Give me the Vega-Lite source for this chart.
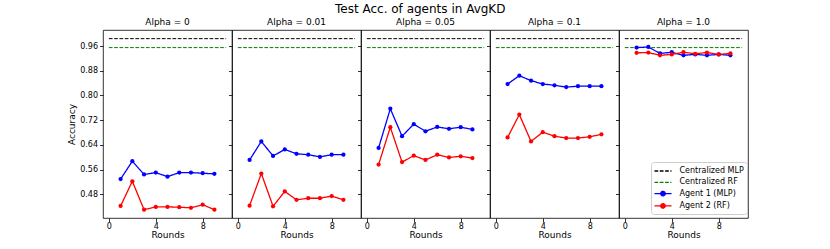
{
  "$schema": "https://vega.github.io/schema/vega-lite/v6.json",
  "padding": {"left": 67, "top": 3, "right": 5, "bottom": 5},
  "background": "white",
  "title": {"text": "Test Acc. of agents in AvgKD", "fontSize": 12, "fontWeight": "normal", "font": "DejaVu Sans", "anchor": "start", "frame": "group", "dx": 232, "offset": 1.5, "color": "#000"},
  "datasets": {
    "central": [
      {"series": "Centralized MLP", "round": 0, "acc": 0.984},
      {"series": "Centralized MLP", "round": 10, "acc": 0.984},
      {"series": "Centralized RF", "round": 0, "acc": 0.955},
      {"series": "Centralized RF", "round": 10, "acc": 0.955}
    ],
    "agents": [
      {"alpha": "0", "series": "Agent 1 (MLP)", "round": 1, "acc": 0.529},
      {"alpha": "0", "series": "Agent 1 (MLP)", "round": 2, "acc": 0.587},
      {"alpha": "0", "series": "Agent 1 (MLP)", "round": 3, "acc": 0.544},
      {"alpha": "0", "series": "Agent 1 (MLP)", "round": 4, "acc": 0.550},
      {"alpha": "0", "series": "Agent 1 (MLP)", "round": 5, "acc": 0.537},
      {"alpha": "0", "series": "Agent 1 (MLP)", "round": 6, "acc": 0.550},
      {"alpha": "0", "series": "Agent 1 (MLP)", "round": 7, "acc": 0.550},
      {"alpha": "0", "series": "Agent 1 (MLP)", "round": 8, "acc": 0.548},
      {"alpha": "0", "series": "Agent 1 (MLP)", "round": 9, "acc": 0.546},
      {"alpha": "0", "series": "Agent 2 (RF)", "round": 1, "acc": 0.442},
      {"alpha": "0", "series": "Agent 2 (RF)", "round": 2, "acc": 0.522},
      {"alpha": "0", "series": "Agent 2 (RF)", "round": 3, "acc": 0.430},
      {"alpha": "0", "series": "Agent 2 (RF)", "round": 4, "acc": 0.439},
      {"alpha": "0", "series": "Agent 2 (RF)", "round": 5, "acc": 0.439},
      {"alpha": "0", "series": "Agent 2 (RF)", "round": 6, "acc": 0.438},
      {"alpha": "0", "series": "Agent 2 (RF)", "round": 7, "acc": 0.436},
      {"alpha": "0", "series": "Agent 2 (RF)", "round": 8, "acc": 0.446},
      {"alpha": "0", "series": "Agent 2 (RF)", "round": 9, "acc": 0.430},
      {"alpha": "0.01", "series": "Agent 1 (MLP)", "round": 1, "acc": 0.591},
      {"alpha": "0.01", "series": "Agent 1 (MLP)", "round": 2, "acc": 0.651},
      {"alpha": "0.01", "series": "Agent 1 (MLP)", "round": 3, "acc": 0.604},
      {"alpha": "0.01", "series": "Agent 1 (MLP)", "round": 4, "acc": 0.625},
      {"alpha": "0.01", "series": "Agent 1 (MLP)", "round": 5, "acc": 0.611},
      {"alpha": "0.01", "series": "Agent 1 (MLP)", "round": 6, "acc": 0.608},
      {"alpha": "0.01", "series": "Agent 1 (MLP)", "round": 7, "acc": 0.601},
      {"alpha": "0.01", "series": "Agent 1 (MLP)", "round": 8, "acc": 0.608},
      {"alpha": "0.01", "series": "Agent 1 (MLP)", "round": 9, "acc": 0.608},
      {"alpha": "0.01", "series": "Agent 2 (RF)", "round": 1, "acc": 0.443},
      {"alpha": "0.01", "series": "Agent 2 (RF)", "round": 2, "acc": 0.547},
      {"alpha": "0.01", "series": "Agent 2 (RF)", "round": 3, "acc": 0.441},
      {"alpha": "0.01", "series": "Agent 2 (RF)", "round": 4, "acc": 0.489},
      {"alpha": "0.01", "series": "Agent 2 (RF)", "round": 5, "acc": 0.462},
      {"alpha": "0.01", "series": "Agent 2 (RF)", "round": 6, "acc": 0.467},
      {"alpha": "0.01", "series": "Agent 2 (RF)", "round": 7, "acc": 0.467},
      {"alpha": "0.01", "series": "Agent 2 (RF)", "round": 8, "acc": 0.474},
      {"alpha": "0.01", "series": "Agent 2 (RF)", "round": 9, "acc": 0.462},
      {"alpha": "0.05", "series": "Agent 1 (MLP)", "round": 1, "acc": 0.630},
      {"alpha": "0.05", "series": "Agent 1 (MLP)", "round": 2, "acc": 0.757},
      {"alpha": "0.05", "series": "Agent 1 (MLP)", "round": 3, "acc": 0.668},
      {"alpha": "0.05", "series": "Agent 1 (MLP)", "round": 4, "acc": 0.707},
      {"alpha": "0.05", "series": "Agent 1 (MLP)", "round": 5, "acc": 0.684},
      {"alpha": "0.05", "series": "Agent 1 (MLP)", "round": 6, "acc": 0.698},
      {"alpha": "0.05", "series": "Agent 1 (MLP)", "round": 7, "acc": 0.692},
      {"alpha": "0.05", "series": "Agent 1 (MLP)", "round": 8, "acc": 0.697},
      {"alpha": "0.05", "series": "Agent 1 (MLP)", "round": 9, "acc": 0.690},
      {"alpha": "0.05", "series": "Agent 2 (RF)", "round": 1, "acc": 0.576},
      {"alpha": "0.05", "series": "Agent 2 (RF)", "round": 2, "acc": 0.697},
      {"alpha": "0.05", "series": "Agent 2 (RF)", "round": 3, "acc": 0.584},
      {"alpha": "0.05", "series": "Agent 2 (RF)", "round": 4, "acc": 0.605},
      {"alpha": "0.05", "series": "Agent 2 (RF)", "round": 5, "acc": 0.591},
      {"alpha": "0.05", "series": "Agent 2 (RF)", "round": 6, "acc": 0.608},
      {"alpha": "0.05", "series": "Agent 2 (RF)", "round": 7, "acc": 0.599},
      {"alpha": "0.05", "series": "Agent 2 (RF)", "round": 8, "acc": 0.603},
      {"alpha": "0.05", "series": "Agent 2 (RF)", "round": 9, "acc": 0.597},
      {"alpha": "0.1", "series": "Agent 1 (MLP)", "round": 1, "acc": 0.837},
      {"alpha": "0.1", "series": "Agent 1 (MLP)", "round": 2, "acc": 0.864},
      {"alpha": "0.1", "series": "Agent 1 (MLP)", "round": 3, "acc": 0.848},
      {"alpha": "0.1", "series": "Agent 1 (MLP)", "round": 4, "acc": 0.837},
      {"alpha": "0.1", "series": "Agent 1 (MLP)", "round": 5, "acc": 0.833},
      {"alpha": "0.1", "series": "Agent 1 (MLP)", "round": 6, "acc": 0.827},
      {"alpha": "0.1", "series": "Agent 1 (MLP)", "round": 7, "acc": 0.830},
      {"alpha": "0.1", "series": "Agent 1 (MLP)", "round": 8, "acc": 0.830},
      {"alpha": "0.1", "series": "Agent 1 (MLP)", "round": 9, "acc": 0.830},
      {"alpha": "0.1", "series": "Agent 2 (RF)", "round": 1, "acc": 0.664},
      {"alpha": "0.1", "series": "Agent 2 (RF)", "round": 2, "acc": 0.738},
      {"alpha": "0.1", "series": "Agent 2 (RF)", "round": 3, "acc": 0.651},
      {"alpha": "0.1", "series": "Agent 2 (RF)", "round": 4, "acc": 0.681},
      {"alpha": "0.1", "series": "Agent 2 (RF)", "round": 5, "acc": 0.668},
      {"alpha": "0.1", "series": "Agent 2 (RF)", "round": 6, "acc": 0.662},
      {"alpha": "0.1", "series": "Agent 2 (RF)", "round": 7, "acc": 0.662},
      {"alpha": "0.1", "series": "Agent 2 (RF)", "round": 8, "acc": 0.666},
      {"alpha": "0.1", "series": "Agent 2 (RF)", "round": 9, "acc": 0.674},
      {"alpha": "1.0", "series": "Agent 1 (MLP)", "round": 1, "acc": 0.955},
      {"alpha": "1.0", "series": "Agent 1 (MLP)", "round": 2, "acc": 0.957},
      {"alpha": "1.0", "series": "Agent 1 (MLP)", "round": 3, "acc": 0.936},
      {"alpha": "1.0", "series": "Agent 1 (MLP)", "round": 4, "acc": 0.940},
      {"alpha": "1.0", "series": "Agent 1 (MLP)", "round": 5, "acc": 0.930},
      {"alpha": "1.0", "series": "Agent 1 (MLP)", "round": 6, "acc": 0.933},
      {"alpha": "1.0", "series": "Agent 1 (MLP)", "round": 7, "acc": 0.930},
      {"alpha": "1.0", "series": "Agent 1 (MLP)", "round": 8, "acc": 0.933},
      {"alpha": "1.0", "series": "Agent 1 (MLP)", "round": 9, "acc": 0.930},
      {"alpha": "1.0", "series": "Agent 2 (RF)", "round": 1, "acc": 0.938},
      {"alpha": "1.0", "series": "Agent 2 (RF)", "round": 2, "acc": 0.939},
      {"alpha": "1.0", "series": "Agent 2 (RF)", "round": 3, "acc": 0.930},
      {"alpha": "1.0", "series": "Agent 2 (RF)", "round": 4, "acc": 0.933},
      {"alpha": "1.0", "series": "Agent 2 (RF)", "round": 5, "acc": 0.940},
      {"alpha": "1.0", "series": "Agent 2 (RF)", "round": 6, "acc": 0.935},
      {"alpha": "1.0", "series": "Agent 2 (RF)", "round": 7, "acc": 0.939},
      {"alpha": "1.0", "series": "Agent 2 (RF)", "round": 8, "acc": 0.933},
      {"alpha": "1.0", "series": "Agent 2 (RF)", "round": 9, "acc": 0.936}
    ]
  },
  "spacing": 0,
  "bounds": "flush",
  "hconcat": [
    {
      "width": 129, "height": 188,
      "title": {"text": "Alpha = 0"},
      "layer": [
        {"data": {"name": "central"}, "mark": {"type": "line", "strokeWidth": 1},
         "encoding": {
           "x": {"field": "round", "type": "quantitative", "scale": {"domain": [-0.5, 10.5], "nice": false, "zero": false}, "axis": {"values": [0, 4, 8], "title": "Rounds"}},
           "y": {"field": "acc", "type": "quantitative", "scale": {"domain": [0.403, 1.012], "nice": false, "zero": false}, "axis": {"values": [0.48, 0.56, 0.64, 0.72, 0.8, 0.88, 0.96], "tickCount": 20, "format": ".2f", "title": "Accuracy", "labelOverlap": false}},
           "color": {"field": "series", "type": "nominal", "scale": {"domain": ["Centralized MLP", "Centralized RF", "Agent 1 (MLP)", "Agent 2 (RF)"], "range": ["#000000", "#008000", "#0000ff", "#ff0000"]},
             "legend": {"title": null, "orient": "none", "legendX": 548, "legendY": 132, "symbolType": "stroke", "symbolSize": 100, "symbolOffset": 3, "symbolStrokeWidth": 1.3, "labelFontSize": 8, "labelFont": "DejaVu Sans", "labelColor": "#000", "rowPadding": 1.3, "padding": 3, "strokeColor": "#cccccc", "fillColor": "white", "cornerRadius": 3, "labelOffset": 10.5,
               "encode": {"symbols": {"update": {
                 "shape": {"signal": "indexof(datum.value, 'Agent') == 0 ? 'M-1.7,0H1.7M-0.45,0A0.45,0.45,0,1,0,0.45,0A0.45,0.45,0,1,0,-0.45,0Z' : 'M-1.7,0H1.7'"},
                 "fill": {"signal": "datum.value == 'Agent 1 (MLP)' ? '#0000ff' : (datum.value == 'Agent 2 (RF)' ? '#ff0000' : 'transparent')"}
               }}}}},
           "strokeDash": {"field": "series", "type": "nominal", "scale": {"domain": ["Centralized MLP", "Centralized RF", "Agent 1 (MLP)", "Agent 2 (RF)"], "range": [[3.7, 1.6], [3.7, 1.6], [1, 0], [1, 0]]}}
         }},
        {"data": {"name": "agents"}, "transform": [{"filter": "datum.alpha == '0'"}],
         "mark": {"type": "line", "strokeWidth": 1.3, "point": {"filled": true, "size": 18}},
         "encoding": {
           "x": {"field": "round", "type": "quantitative"},
           "y": {"field": "acc", "type": "quantitative"},
           "color": {"field": "series", "type": "nominal"},
           "strokeDash": {"field": "series", "type": "nominal"}
         }}
      ]
    },
    {
      "width": 129, "height": 188,
      "title": {"text": "Alpha = 0.01"},
      "layer": [
        {"data": {"name": "central"}, "mark": {"type": "line", "strokeWidth": 1},
         "encoding": {
           "x": {"field": "round", "type": "quantitative", "scale": {"domain": [-0.5, 10.5], "nice": false, "zero": false}, "axis": {"values": [0, 4, 8], "title": "Rounds"}},
           "y": {"field": "acc", "type": "quantitative", "scale": {"domain": [0.403, 1.012], "nice": false, "zero": false}, "axis": {"values": [0.48, 0.56, 0.64, 0.72, 0.8, 0.88, 0.96], "tickCount": 20, "labels": false, "title": null}},
           "color": {"field": "series", "type": "nominal"},
           "strokeDash": {"field": "series", "type": "nominal"}
         }},
        {"data": {"name": "agents"}, "transform": [{"filter": "datum.alpha == '0.01'"}],
         "mark": {"type": "line", "strokeWidth": 1.3, "point": {"filled": true, "size": 18}},
         "encoding": {
           "x": {"field": "round", "type": "quantitative"},
           "y": {"field": "acc", "type": "quantitative"},
           "color": {"field": "series", "type": "nominal"},
           "strokeDash": {"field": "series", "type": "nominal"}
         }}
      ]
    },
    {
      "width": 129, "height": 188,
      "title": {"text": "Alpha = 0.05"},
      "layer": [
        {"data": {"name": "central"}, "mark": {"type": "line", "strokeWidth": 1},
         "encoding": {
           "x": {"field": "round", "type": "quantitative", "scale": {"domain": [-0.5, 10.5], "nice": false, "zero": false}, "axis": {"values": [0, 4, 8], "title": "Rounds"}},
           "y": {"field": "acc", "type": "quantitative", "scale": {"domain": [0.403, 1.012], "nice": false, "zero": false}, "axis": {"values": [0.48, 0.56, 0.64, 0.72, 0.8, 0.88, 0.96], "tickCount": 20, "labels": false, "title": null}},
           "color": {"field": "series", "type": "nominal"},
           "strokeDash": {"field": "series", "type": "nominal"}
         }},
        {"data": {"name": "agents"}, "transform": [{"filter": "datum.alpha == '0.05'"}],
         "mark": {"type": "line", "strokeWidth": 1.3, "point": {"filled": true, "size": 18}},
         "encoding": {
           "x": {"field": "round", "type": "quantitative"},
           "y": {"field": "acc", "type": "quantitative"},
           "color": {"field": "series", "type": "nominal"},
           "strokeDash": {"field": "series", "type": "nominal"}
         }}
      ]
    },
    {
      "width": 129, "height": 188,
      "title": {"text": "Alpha = 0.1"},
      "layer": [
        {"data": {"name": "central"}, "mark": {"type": "line", "strokeWidth": 1},
         "encoding": {
           "x": {"field": "round", "type": "quantitative", "scale": {"domain": [-0.5, 10.5], "nice": false, "zero": false}, "axis": {"values": [0, 4, 8], "title": "Rounds"}},
           "y": {"field": "acc", "type": "quantitative", "scale": {"domain": [0.403, 1.012], "nice": false, "zero": false}, "axis": {"values": [0.48, 0.56, 0.64, 0.72, 0.8, 0.88, 0.96], "tickCount": 20, "labels": false, "title": null}},
           "color": {"field": "series", "type": "nominal"},
           "strokeDash": {"field": "series", "type": "nominal"}
         }},
        {"data": {"name": "agents"}, "transform": [{"filter": "datum.alpha == '0.1'"}],
         "mark": {"type": "line", "strokeWidth": 1.3, "point": {"filled": true, "size": 18}},
         "encoding": {
           "x": {"field": "round", "type": "quantitative"},
           "y": {"field": "acc", "type": "quantitative"},
           "color": {"field": "series", "type": "nominal"},
           "strokeDash": {"field": "series", "type": "nominal"}
         }}
      ]
    },
    {
      "width": 129, "height": 188,
      "title": {"text": "Alpha = 1.0"},
      "layer": [
        {"data": {"name": "central"}, "mark": {"type": "line", "strokeWidth": 1},
         "encoding": {
           "x": {"field": "round", "type": "quantitative", "scale": {"domain": [-0.5, 10.5], "nice": false, "zero": false}, "axis": {"values": [0, 4, 8], "title": "Rounds"}},
           "y": {"field": "acc", "type": "quantitative", "scale": {"domain": [0.403, 1.012], "nice": false, "zero": false}, "axis": {"values": [0.48, 0.56, 0.64, 0.72, 0.8, 0.88, 0.96], "tickCount": 20, "labels": false, "title": null}},
           "color": {"field": "series", "type": "nominal"},
           "strokeDash": {"field": "series", "type": "nominal"}
         }},
        {"data": {"name": "agents"}, "transform": [{"filter": "datum.alpha == '1.0'"}],
         "mark": {"type": "line", "strokeWidth": 1.3, "point": {"filled": true, "size": 18}},
         "encoding": {
           "x": {"field": "round", "type": "quantitative"},
           "y": {"field": "acc", "type": "quantitative"},
           "color": {"field": "series", "type": "nominal"},
           "strokeDash": {"field": "series", "type": "nominal"}
         }}
      ]
    }
  ],
  "resolve": {"scale": {"color": "shared", "strokeDash": "shared"}},
  "config": {
    "font": "DejaVu Sans",
    "view": {"stroke": "#000", "strokeWidth": 0.8},
    "axis": {"grid": false, "domain": false, "tickSize": 3.5, "tickColor": "#000", "tickWidth": 0.8, "labelFontSize": 8, "labelColor": "#000", "labelPadding": 2, "labelOverlap": false, "titleFontSize": 9, "titleFontWeight": "normal", "titleColor": "#000", "titlePadding": 3, "labelFont": "DejaVu Sans", "titleFont": "DejaVu Sans"},
    "axisX": {"titlePadding": 0, "labelPadding": 0.5},
    "title": {"fontSize": 9, "fontWeight": "normal", "offset": 3, "color": "#000", "font": "DejaVu Sans"}
  }
}
